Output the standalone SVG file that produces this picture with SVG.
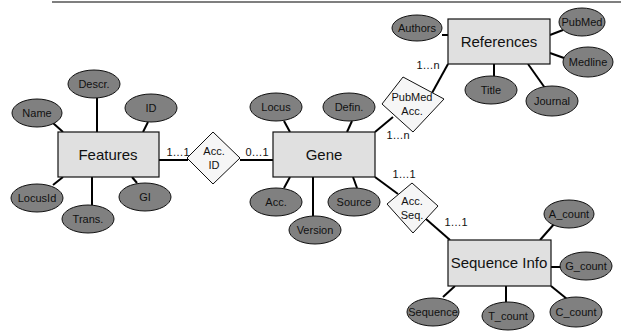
<svg xmlns="http://www.w3.org/2000/svg" width="621" height="331" viewBox="0 0 621 331">
<style>
.ent{fill:#e0e0e0;stroke:#111;stroke-width:1.2}
.att{fill:#808080;stroke:#111;stroke-width:1}
.rel{fill:#f6f6f6;stroke:#111;stroke-width:1}
.c{stroke:#000;stroke-width:2;fill:none}
text{font-family:"Liberation Sans",Arial,sans-serif;text-anchor:middle;fill:#111}
.et{font-size:15px}
.at{font-size:11px}
.rt{font-size:11px}
.card{font-size:11px}
</style>
<rect width="621" height="331" fill="#fff"/>
<line x1="52" y1="2" x2="621" y2="2" stroke="#555" stroke-width="1.5"/>
<g id="connectors">
<line class="c" x1="53" y1="123" x2="63" y2="132"/>
<line class="c" x1="97" y1="98" x2="97" y2="132"/>
<line class="c" x1="148" y1="122" x2="143" y2="132"/>
<line class="c" x1="63" y1="177" x2="53" y2="185"/>
<line class="c" x1="92" y1="177" x2="92" y2="205"/>
<line class="c" x1="132" y1="177" x2="137" y2="183"/>
<line class="c" x1="159" y1="160" x2="188" y2="160"/>
<line class="c" x1="240" y1="160" x2="273" y2="160"/>
<line class="c" x1="284" y1="121" x2="290" y2="132"/>
<line class="c" x1="352" y1="121" x2="347" y2="132"/>
<line class="c" x1="290" y1="177" x2="284" y2="188"/>
<line class="c" x1="313" y1="177" x2="313" y2="216"/>
<line class="c" x1="353" y1="177" x2="357" y2="188"/>
<line class="c" x1="375" y1="132" x2="393" y2="117"/>
<line class="c" x1="432" y1="93" x2="448" y2="64"/>
<line class="c" x1="442" y1="35" x2="448" y2="35"/>
<line class="c" x1="550" y1="35" x2="563" y2="30"/>
<line class="c" x1="550" y1="53" x2="564" y2="58"/>
<line class="c" x1="494" y1="64" x2="494" y2="76"/>
<line class="c" x1="528" y1="64" x2="545" y2="88"/>
<line class="c" x1="375" y1="177" x2="398" y2="194"/>
<line class="c" x1="426" y1="219" x2="450" y2="240"/>
<line class="c" x1="540" y1="240" x2="555" y2="223"/>
<line class="c" x1="551" y1="267" x2="561" y2="267"/>
<line class="c" x1="551" y1="286" x2="567" y2="299"/>
<line class="c" x1="506" y1="286" x2="506" y2="302"/>
<line class="c" x1="455" y1="286" x2="443" y2="297"/>
</g>
<g id="features">
<rect class="ent" x="58" y="132" width="101" height="45"/>
<text class="et" x="108" y="160">Features</text>
</g>
<g id="name"><ellipse class="att" cx="37" cy="113" rx="25" ry="14"/><text class="at" x="37" y="117">Name</text></g>
<g id="descr"><ellipse class="att" cx="94" cy="84" rx="26" ry="14"/><text class="at" x="94" y="88">Descr.</text></g>
<g id="id"><ellipse class="att" cx="151" cy="108" rx="26" ry="14"/><text class="at" x="151" y="112">ID</text></g>
<g id="locusid"><ellipse class="att" cx="37" cy="198" rx="26" ry="14"/><text class="at" x="37" y="202">LocusId</text></g>
<g id="trans"><ellipse class="att" cx="88" cy="219" rx="26" ry="14"/><text class="at" x="88" y="223">Trans.</text></g>
<g id="gi"><ellipse class="att" cx="145" cy="197" rx="26" ry="14"/><text class="at" x="145" y="201">GI</text></g>
<g id="accid">
<polygon class="rel" points="187,158 213,132 240,158 213,184"/>
<text class="rt" x="214" y="155">Acc.</text>
<text class="rt" x="214" y="169">ID</text>
</g>
<g id="gene">
<rect class="ent" x="273" y="132" width="102" height="45"/>
<text class="et" x="324" y="160">Gene</text>
</g>
<g id="locus"><ellipse class="att" cx="276" cy="107" rx="26" ry="14"/><text class="at" x="276" y="111">Locus</text></g>
<g id="defin"><ellipse class="att" cx="349" cy="107" rx="26" ry="14"/><text class="at" x="349" y="111">Defin.</text></g>
<g id="acc"><ellipse class="att" cx="276" cy="202" rx="26" ry="14"/><text class="at" x="276" y="206">Acc.</text></g>
<g id="version"><ellipse class="att" cx="315" cy="230" rx="26" ry="14"/><text class="at" x="315" y="234">Version</text></g>
<g id="source"><ellipse class="att" cx="354" cy="202" rx="26" ry="14"/><text class="at" x="354" y="206">Source</text></g>
<g id="pubmedacc">
<polygon class="rel" points="382,104 403,77 444,99 413,132"/>
<text class="rt" x="412" y="101">PubMed</text>
<text class="rt" x="412" y="115">Acc.</text>
</g>
<g id="references">
<rect class="ent" x="448" y="19" width="102" height="45"/>
<text class="et" x="499" y="47">References</text>
</g>
<g id="authors"><ellipse class="att" cx="417" cy="28" rx="25" ry="13"/><text class="at" x="417" y="32">Authors</text></g>
<g id="pubmed"><ellipse class="att" cx="582" cy="22" rx="23" ry="14"/><text class="at" x="582" y="26">PubMed</text></g>
<g id="medline"><ellipse class="att" cx="588" cy="62" rx="25" ry="15"/><text class="at" x="588" y="66">Medline</text></g>
<g id="title"><ellipse class="att" cx="491" cy="90" rx="26" ry="14"/><text class="at" x="491" y="94">Title</text></g>
<g id="journal"><ellipse class="att" cx="552" cy="101" rx="26" ry="15"/><text class="at" x="552" y="105">Journal</text></g>
<g id="accseq">
<polygon class="rel" points="387,204 412,183 438,206 413,233"/>
<text class="rt" x="412" y="205">Acc.</text>
<text class="rt" x="412" y="219">Seq.</text>
</g>
<g id="sequenceinfo">
<rect class="ent" x="448" y="240" width="103" height="46"/>
<text class="et" x="499" y="268">Sequence Info</text>
</g>
<g id="acount"><ellipse class="att" cx="569" cy="214" rx="25" ry="14"/><text class="at" x="569" y="218">A_count</text></g>
<g id="gcount"><ellipse class="att" cx="586" cy="266" rx="26" ry="14"/><text class="at" x="586" y="270">G_count</text></g>
<g id="ccount"><ellipse class="att" cx="576" cy="312" rx="26" ry="15"/><text class="at" x="576" y="316">C_count</text></g>
<g id="tcount"><ellipse class="att" cx="508" cy="316" rx="26" ry="14"/><text class="at" x="508" y="320">T_count</text></g>
<g id="sequence"><ellipse class="att" cx="433" cy="312" rx="26" ry="14"/><text class="at" x="433" y="316">Sequence</text></g>
<g id="cardinalities">
<text class="card" x="178" y="156">1…1</text>
<text class="card" x="257" y="156">0…1</text>
<text class="card" x="428" y="69">1…n</text>
<text class="card" x="398" y="139">1…n</text>
<text class="card" x="404" y="178">1…1</text>
<text class="card" x="456" y="226">1…1</text>
</g>
</svg>
